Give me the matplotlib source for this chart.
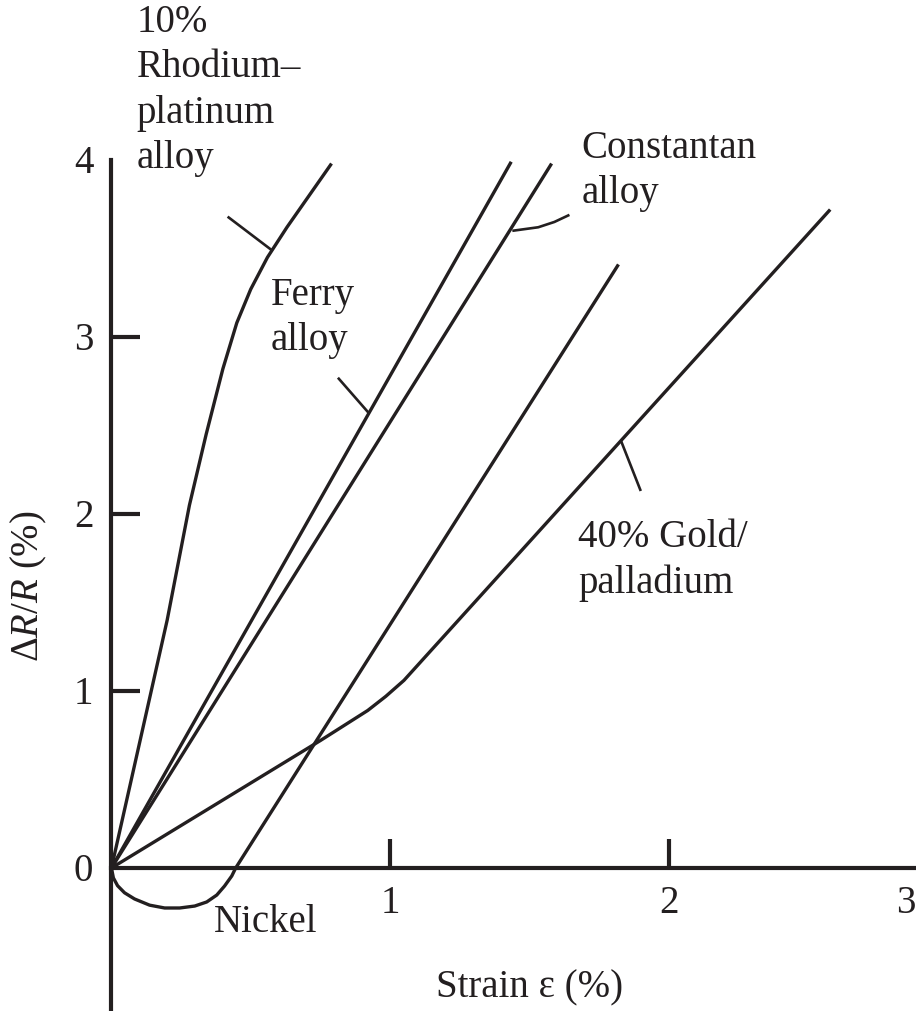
import matplotlib
matplotlib.use("Agg")
import matplotlib.pyplot as plt

# ---- data ----
rhodium_x = [0.0, 0.10, 0.20, 0.28, 0.34, 0.40, 0.45, 0.50, 0.56, 0.63, 0.71, 0.79]
rhodium_y = [0.0, 0.70, 1.40, 2.05, 2.45, 2.82, 3.08, 3.27, 3.45, 3.62, 3.80, 3.98]

ferry_x = [0.0, 1.435]
ferry_y = [0.0, 3.99]

constantan_x = [0.0, 1.58]
constantan_y = [0.0, 3.98]

nickel_x = [0.0, 0.007, 0.022, 0.047, 0.083, 0.137, 0.191, 0.245, 0.299, 0.342,
            0.378, 0.406, 0.432, 0.446, 1.82]
nickel_y = [0.0, -0.056, -0.10, -0.14, -0.175, -0.21, -0.226, -0.226, -0.215, -0.192,
            -0.153, -0.102, -0.045, 0.0, 3.41]

gold_x = [0.0, 0.75, 0.92, 0.985, 1.05, 2.58]
gold_y = [0.0, 0.72, 0.89, 0.97, 1.06, 3.72]

x_ticks = [1, 2]
y_ticks = [1, 2, 3]
x_tick_labels = ["1", "2", "3"]
x_tick_label_pos = [1, 2, 2.85]
y_tick_labels = ["0", "1", "2", "3", "4"]
y_tick_label_pos = [-0.02, 0.98, 1.98, 2.98, 3.98]

labels = ["10%\nRhodium–\nplatinum\nalloy", "Ferry\nalloy", "Constantan\nalloy",
          "40% Gold/\npalladium", "Nickel"]
# (left x, baseline y of last line)
label_pos = [(0.09, 3.955), (0.572, 2.927), (1.687, 3.757), (1.676, 1.554), (0.367, -0.362)]

leaders = [
    ([0.417, 0.576], [3.68, 3.49]),
    ([0.813, 0.924], [2.77, 2.57]),
    ([1.439, 1.532, 1.59, 1.644], [3.60, 3.62, 3.65, 3.69]),
    ([1.83, 1.90], [2.41, 2.13]),
]

INK = "#231f20"
FONT = "Liberation Serif"
FS = 28

plt.rcParams["mathtext.fontset"] = "custom"
plt.rcParams["mathtext.rm"] = FONT
plt.rcParams["mathtext.it"] = FONT + ":italic"

fig = plt.figure(figsize=(9.16, 10.11), dpi=100)
ax = fig.add_axes([0, 0, 1, 1])
ax.set_xlim(-0.40, 2.888)
ax.set_ylim(-0.808, 4.904)

for xs, ys in [(rhodium_x, rhodium_y), (ferry_x, ferry_y), (constantan_x, constantan_y),
               (nickel_x, nickel_y), (gold_x, gold_y)]:
    ax.plot(xs, ys, color=INK, lw=2.4, solid_capstyle="butt", solid_joinstyle="round")

for xs, ys in leaders:
    ax.plot(xs, ys, color=INK, lw=1.9, solid_capstyle="butt")

# spines
for s in ["top", "right"]:
    ax.spines[s].set_visible(False)
ax.spines["left"].set_position(("data", 0))
ax.spines["bottom"].set_position(("data", 0))
ax.spines["left"].set_bounds(-0.9, 4.0)
ax.spines["bottom"].set_bounds(0, 3.0)
for s in ["left", "bottom"]:
    ax.spines[s].set_linewidth(3.0)
    ax.spines[s].set_color(INK)

ax.set_xticks(x_ticks)
ax.set_yticks(y_ticks)
ax.tick_params(direction="in", length=21, width=3.0, color=INK,
               labelbottom=False, labelleft=False)

for lab, xp in zip(x_tick_labels, x_tick_label_pos):
    ax.text(xp, -0.2, lab, ha="center", va="center", fontsize=FS, family=FONT, color=INK)
for lab, yp in zip(y_tick_labels, y_tick_label_pos):
    ax.text(-0.10, yp, lab, ha="center", va="center", fontsize=FS, family=FONT, color=INK)

for lab, (xp, yp) in zip(labels, label_pos):
    ax.text(xp, yp, lab, ha="left", va="baseline", fontsize=FS, family=FONT,
            color=INK, linespacing=1.3)

ax.text(1.50, -0.729, "Strain ε (%)", ha="center", va="baseline", fontsize=FS,
        family=FONT, color=INK)
ax.text(-0.295, 1.59, "Δ$\\it{R}$/$\\it{R}$ (%)", ha="center", va="center", rotation=90,
        fontsize=FS, family=FONT, color=INK)

fig.savefig("out.png", dpi=100)
